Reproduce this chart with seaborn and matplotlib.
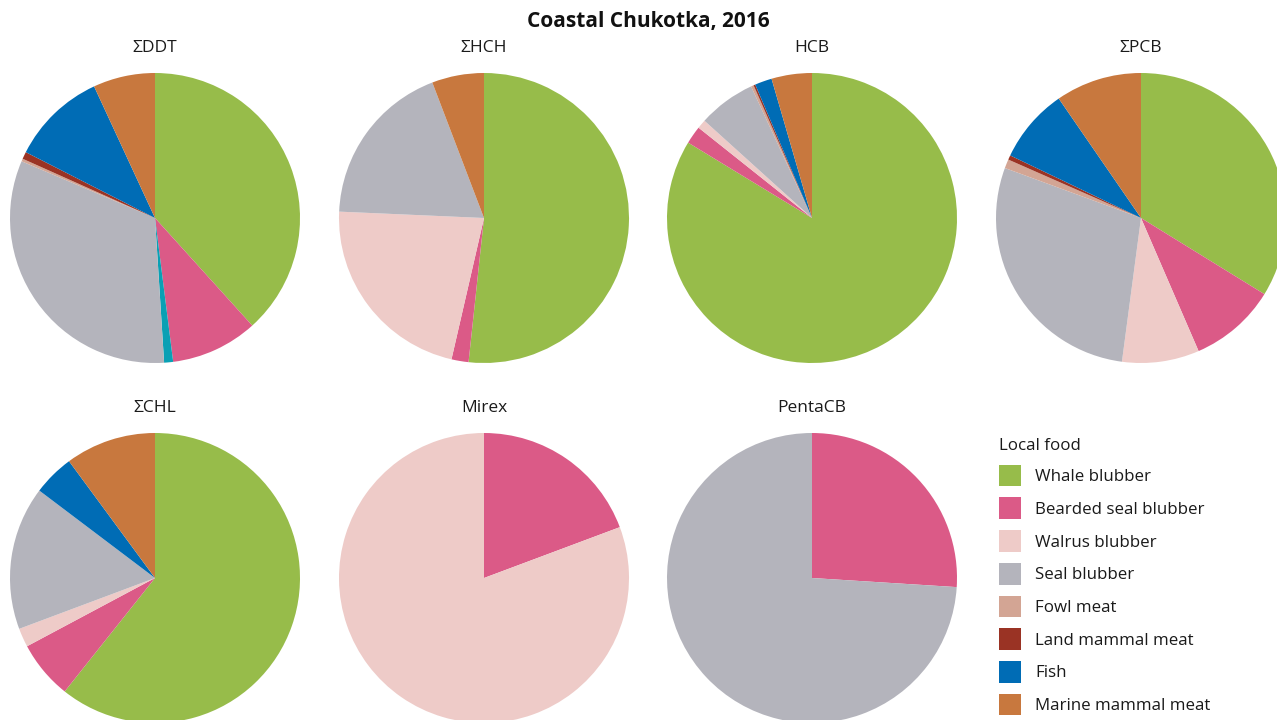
import matplotlib
matplotlib.use("Agg")
import matplotlib.pyplot as plt
from matplotlib.patches import Patch
import seaborn as sns

sns.set_theme(style="white")
plt.rcParams["font.family"] = ["Open Sans", "DejaVu Sans"]

# Food sources, in clockwise wedge order starting at 12 o'clock
sources = ["Whale blubber", "Bearded seal blubber", "Other", "Walrus blubber",
           "Seal blubber", "Fowl meat", "Land mammal meat", "Fish",
           "Marine mammal meat"]
source_colors = ["#97bc4a", "#db5a87", "#0aa0b4", "#eecbc8",
                 "#b4b4bc", "#d3a594", "#9a3324", "#006cb5", "#c8783e"]
legend_sources = ["Whale blubber", "Bearded seal blubber", "Walrus blubber",
                  "Seal blubber", "Fowl meat", "Land mammal meat", "Fish",
                  "Marine mammal meat"]

# Share of intake (%) per contaminant, same order as `sources`
ddt = [38.3, 9.7, 1.0, 0.0, 32.4, 0.3, 0.8, 10.6, 6.9]
hch = [51.7, 1.9, 0.0, 22.1, 18.5, 0.0, 0.0, 0.0, 5.8]
hcb = [83.7, 2.0, 0.0, 1.0, 6.4, 0.3, 0.2, 1.9, 4.5]
pcb = [33.8, 9.7, 0.0, 8.6, 28.5, 1.0, 0.5, 8.3, 9.6]
chl = [60.7, 6.5, 0.0, 2.1, 16.0, 0.0, 0.0, 4.6, 10.1]
mirex = [0.0, 19.3, 0.0, 80.7, 0.0, 0.0, 0.0, 0.0, 0.0]
pentacb = [0.0, 26.0, 0.0, 0.0, 74.0, 0.0, 0.0, 0.0, 0.0]

panel_titles = ["ΣDDT", "ΣHCH", "HCB", "ΣPCB", "ΣCHL", "Mirex", "PentaCB"]
panel_values = [ddt, hch, hcb, pcb, chl, mirex, pentacb]

W, H = 1277, 720
fig = plt.figure(figsize=(W / 100, H / 100), dpi=100)

# pie centres (pixels) and radius
R = 145
centres = [(155, 218), (484, 218), (812, 218), (1141, 218),
           (155, 578), (484, 578), (812, 578)]

for (cx, cy), title, vals in zip(centres, panel_titles, panel_values):
    ax = fig.add_axes([(cx - R) / W, (H - cy - R) / H, 2 * R / W, 2 * R / H])
    ax.pie(vals, colors=source_colors, startangle=90, counterclock=False,
           radius=1, wedgeprops=dict(linewidth=0, edgecolor="none"))
    ax.set_xlim(-1, 1)
    ax.set_ylim(-1, 1)
    ax.set_axis_off()
    ax.set_title(title, fontsize=12.5, pad=15, color="#1a1a1a")

fig.suptitle("Coastal Chukotka, 2016", x=648 / W, y=1 - 21 / H, va="center",
             fontsize=15, fontweight="bold", color="#111111")

handles = [Patch(facecolor=source_colors[sources.index(s)], edgecolor="none")
           for s in legend_sources]
leg = fig.legend(handles, legend_sources, title="Local food",
                 loc="upper left", bbox_to_anchor=(992 / W, 1 - 431 / H),
                 frameon=False, fontsize=12.2, title_fontsize=12.2,
                 handlelength=1.3, handleheight=1.6, labelspacing=0.645,
                 handletextpad=0.85, alignment="left", borderaxespad=0)
for t in leg.get_texts():
    t.set_color("#1a1a1a")
leg.get_title().set_color("#1a1a1a")

fig.savefig("out.png", dpi=100, facecolor="white")
